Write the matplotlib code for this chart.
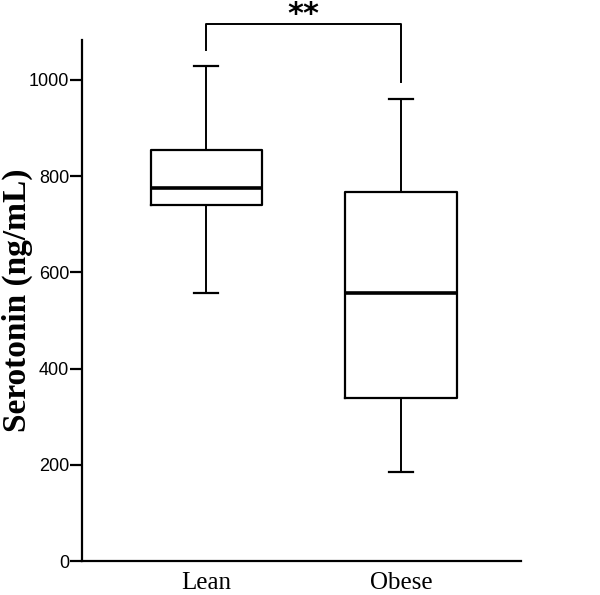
import matplotlib
matplotlib.use("Agg")
import matplotlib.pyplot as plt

groups = ["Lean", "Obese"]
whisker_low = [557, 186]
q1 = [740, 339]
median = [775, 556]
q3 = [854, 766]
whisker_high = [1028, 961]
yticks = [0, 200, 400, 600, 800, 1000]
bracket_y = 1116
bracket_ends = [1061, 995]
sig_label = "**"

fig = plt.figure(figsize=(6, 5.95), dpi=100)
ax = fig.add_axes([0.137, 0.057, 0.731, 0.876])

stats = []
for i, g in enumerate(groups):
    stats.append(dict(label=g, whislo=whisker_low[i], q1=q1[i], med=median[i],
                      q3=q3[i], whishi=whisker_high[i], fliers=[]))

ax.bxp(stats, positions=[1, 2], widths=0.57, showfliers=False,
       boxprops=dict(color="black", linewidth=1.6),
       medianprops=dict(color="black", linewidth=2.6),
       whiskerprops=dict(color="black", linewidth=1.4),
       capprops=dict(color="black", linewidth=1.6),
       capwidths=0.125)

ax.set_xlim(0.364, 2.615)
ax.set_ylim(0, 1083)
ax.set_yticks(yticks)
ax.set_yticklabels([str(t) for t in yticks], family="Liberation Sans", fontsize=13)
ax.set_xticks([1, 2])
ax.set_xticklabels(groups, family="Liberation Serif", fontsize=18)
ax.tick_params(axis="x", length=0, pad=8)
ax.tick_params(axis="y", length=8.5, width=1.6, pad=1)
for s in ["top", "right"]:
    ax.spines[s].set_visible(False)
for s in ["left", "bottom"]:
    ax.spines[s].set_linewidth(1.6)

ax.set_ylabel("Serotonin (ng/mL)", family="Liberation Serif", fontweight="bold",
              fontsize=24)
ax.yaxis.set_label_coords(-0.112, 0.5)

ax.plot([1, 1, 2, 2], [bracket_ends[0], bracket_y, bracket_y, bracket_ends[1]],
        color="black", linewidth=1.4, clip_on=False)
ax.text(1.5, 1118, sig_label, ha="center", va="baseline",
        family="DejaVu Sans", fontweight="bold", fontsize=22)

fig.savefig("out.png", dpi=100)
